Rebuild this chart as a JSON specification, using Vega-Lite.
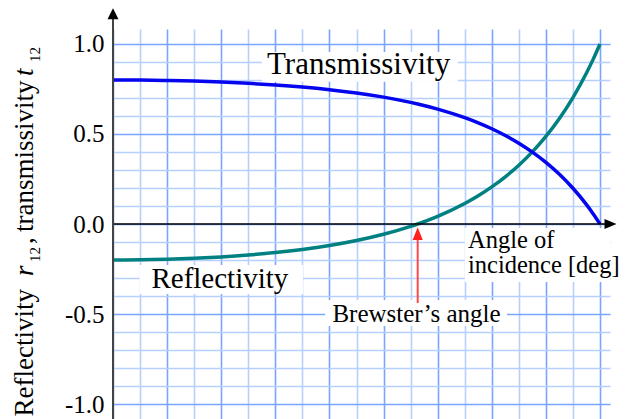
{
  "$schema": "https://vega.github.io/schema/vega-lite/v6.json",
  "autosize": {"type": "none"},
  "padding": {"left": 113, "top": 29, "right": 15, "bottom": 0},
  "width": 497,
  "height": 390,
  "background": "white",
  "config": {"view": {"stroke": null}},
  "datasets": {
    "fresnel": [
      {"angle": 0, "r": -0.2, "t": 0.8},
      {"angle": 5, "r": -0.19898, "t": 0.79932},
      {"angle": 10, "r": -0.19589, "t": 0.79726},
      {"angle": 15, "r": -0.1906, "t": 0.79373},
      {"angle": 20, "r": -0.1829, "t": 0.7886},
      {"angle": 25, "r": -0.17248, "t": 0.78165},
      {"angle": 30, "r": -0.1589, "t": 0.7726},
      {"angle": 35, "r": -0.14156, "t": 0.76104},
      {"angle": 40, "r": -0.11962, "t": 0.74642},
      {"angle": 45, "r": -0.09201, "t": 0.72801},
      {"angle": 50, "r": -0.05725, "t": 0.70483},
      {"angle": 55, "r": -0.01334, "t": 0.67556},
      {"angle": 56.31, "r": 0, "t": 0.66667},
      {"angle": 60, "r": 0.04245, "t": 0.63837},
      {"angle": 65, "r": 0.11386, "t": 0.59076},
      {"angle": 67.5, "r": 0.15698, "t": 0.56201},
      {"angle": 70, "r": 0.20613, "t": 0.52925},
      {"angle": 72.5, "r": 0.26232, "t": 0.49179},
      {"angle": 75, "r": 0.32675, "t": 0.44883},
      {"angle": 77.5, "r": 0.40092, "t": 0.39939},
      {"angle": 80, "r": 0.48664, "t": 0.34224},
      {"angle": 82.5, "r": 0.58616, "t": 0.27589},
      {"angle": 85, "r": 0.70232, "t": 0.19845},
      {"angle": 87.5, "r": 0.83872, "t": 0.10752},
      {"angle": 88.75, "r": 0.91591, "t": 0.05606},
      {"angle": 90, "r": 1, "t": 0}
    ],
    "boxes": [
      {"x": 27.5, "x2": 63.7, "y": 0.956, "y2": 0.79},
      {"x": 4.9, "x2": 35.1, "y": -0.228, "y2": -0.389},
      {"x": 39.2, "x2": 72.8, "y": -0.422, "y2": -0.567},
      {"x": 65.0, "x2": 91.848, "y": -0.022, "y2": -0.322}
    ],
    "headline": [
      {"x": 28.46, "y": 0.8317, "text": "Transmissivity"}
    ],
    "bigLabels": [
      {"x": 7.1, "y": -0.354, "text": "Reflectivity"}
    ],
    "brewsterLabel": [
      {"x": 40.55, "y": -0.5428, "text": "Brewster’s angle"}
    ],
    "xTitle": [
      {"x": 65.6, "y": -0.135, "text": "Angle of\nincidence [deg]"}
    ],
    "titleRoman": [
      {"x": -14.78, "y": -1.0694, "text": "Reflectivity"},
      {"x": -14.78, "y": -0.1111, "text": ","},
      {"x": -14.78, "y": -0.0444, "text": "transmissivity"}
    ],
    "titleItalic": [
      {"x": -14.78, "y": -0.2889, "text": "r"},
      {"x": -14.78, "y": 0.8222, "text": "t"}
    ],
    "titleSub": [
      {"x": -13.54, "y": -0.2111, "text": "12"},
      {"x": -13.54, "y": 0.9, "text": "12"}
    ],
    "yAxisLine": [{"x": 0, "y": -1.0833, "y2": 1.16}],
    "xAxisLine": [{"x": 0, "x2": 91.2, "y": 0}],
    "yArrow": [{"x": 0, "y": 1.168}],
    "xArrow": [{"x": 91.94, "y": 0}],
    "brewsterLine": [{"x": 56.31, "y": -0.085, "y2": -0.439}],
    "brewsterHead": [{"x": 56.31, "y": -0.053}]
  },
  "layer": [
    {
      "data": {"name": "fresnel"},
      "mark": {"type": "line", "color": "#008080", "strokeWidth": 3.5, "interpolate": "monotone"},
      "encoding": {
        "x": {
          "field": "angle", "type": "quantitative",
          "scale": {"domain": [0, 91.848], "nice": false, "zero": false},
          "axis": {
            "values": [0, 5, 10, 15, 20, 25, 30, 35, 40, 45, 50, 55, 60, 65, 70, 75, 80, 85, 90],
            "tickCount": 100,
            "grid": true,
            "gridColor": {"condition": {"test": "datum.value % 10 === 0", "value": "#7ba4ff"}, "value": "#b6cfff"},
            "gridWidth": 1.6,
            "domain": false, "ticks": false, "labels": false, "title": null
          }
        },
        "y": {
          "field": "r", "type": "quantitative",
          "scale": {"domain": [-1.0833, 1.0833], "nice": false, "zero": false},
          "axis": {
            "values": [-1, -0.9, -0.8, -0.7, -0.6, -0.5, -0.4, -0.3, -0.2, -0.1, 0, 0.1, 0.2, 0.3, 0.4, 0.5, 0.6, 0.7, 0.8, 0.9, 1],
            "tickCount": 100,
            "grid": true,
            "gridColor": {"condition": {"test": "abs(datum.value * 2 - round(datum.value * 2)) < 0.001", "value": "#7ba4ff"}, "value": "#b6cfff"},
            "gridWidth": 1.6,
            "domain": false, "ticks": false, "tickSize": 0,
            "labelPadding": 9,
            "labelFont": "Liberation Serif", "labelFontSize": 25, "labelColor": "black",
            "labelOverlap": false, "labelFlush": false, "labelBound": false,
            "labelExpr": "datum.value == 1 ? '1.0' : datum.value == 0.5 ? '0.5' : datum.value == 0 ? '0.0' : datum.value == -0.5 ? '-0.5' : datum.value == -1 ? '-1.0' : ''",
            "title": null
          }
        }
      }
    },
    {
      "data": {"name": "fresnel"},
      "mark": {"type": "line", "color": "#0505ee", "strokeWidth": 3.5, "interpolate": "monotone"},
      "encoding": {
        "x": {"field": "angle", "type": "quantitative"},
        "y": {"field": "t", "type": "quantitative"}
      }
    },
    {
      "data": {"name": "boxes"},
      "mark": {"type": "rect", "fill": "white"},
      "encoding": {
        "x": {"field": "x", "type": "quantitative"},
        "x2": {"field": "x2"},
        "y": {"field": "y", "type": "quantitative"},
        "y2": {"field": "y2"}
      }
    },
    {
      "data": {"name": "xAxisLine"},
      "mark": {"type": "rule", "color": "black", "strokeWidth": 1.5},
      "encoding": {
        "x": {"field": "x", "type": "quantitative"},
        "x2": {"field": "x2"},
        "y": {"field": "y", "type": "quantitative"}
      }
    },
    {
      "data": {"name": "xArrow"},
      "mark": {"type": "point", "shape": "M1,0L-1,-0.85L-1,0.85Z", "size": 144, "filled": true, "color": "black", "opacity": 1},
      "encoding": {
        "x": {"field": "x", "type": "quantitative"},
        "y": {"field": "y", "type": "quantitative"}
      }
    },
    {
      "data": {"name": "yAxisLine"},
      "mark": {"type": "rule", "color": "#444444", "strokeWidth": 2},
      "encoding": {
        "x": {"field": "x", "type": "quantitative"},
        "y": {"field": "y", "type": "quantitative"},
        "y2": {"field": "y2"}
      }
    },
    {
      "data": {"name": "yArrow"},
      "mark": {"type": "point", "shape": "M0,-1L-1,1L1,1Z", "size": 121, "filled": true, "color": "black", "opacity": 1},
      "encoding": {
        "x": {"field": "x", "type": "quantitative"},
        "y": {"field": "y", "type": "quantitative"}
      }
    },
    {
      "data": {"name": "brewsterLine"},
      "mark": {"type": "rule", "color": "#ff4a4a", "strokeWidth": 2},
      "encoding": {
        "x": {"field": "x", "type": "quantitative"},
        "y": {"field": "y", "type": "quantitative"},
        "y2": {"field": "y2"}
      }
    },
    {
      "data": {"name": "brewsterHead"},
      "mark": {"type": "point", "shape": "M0,-1L-0.8,1L0.8,1Z", "size": 161, "filled": true, "color": "#ff2020", "opacity": 1},
      "encoding": {
        "x": {"field": "x", "type": "quantitative"},
        "y": {"field": "y", "type": "quantitative"}
      }
    },
    {
      "data": {"name": "headline"},
      "mark": {"type": "text", "font": "Liberation Serif", "fontSize": 31, "align": "left", "baseline": "alphabetic", "color": "black"},
      "encoding": {
        "x": {"field": "x", "type": "quantitative"},
        "y": {"field": "y", "type": "quantitative"},
        "text": {"field": "text"}
      }
    },
    {
      "data": {"name": "bigLabels"},
      "mark": {"type": "text", "font": "Liberation Serif", "fontSize": 29, "align": "left", "baseline": "alphabetic", "color": "black"},
      "encoding": {
        "x": {"field": "x", "type": "quantitative"},
        "y": {"field": "y", "type": "quantitative"},
        "text": {"field": "text"}
      }
    },
    {
      "data": {"name": "brewsterLabel"},
      "mark": {"type": "text", "font": "Liberation Serif", "fontSize": 25, "align": "left", "baseline": "alphabetic", "color": "black"},
      "encoding": {
        "x": {"field": "x", "type": "quantitative"},
        "y": {"field": "y", "type": "quantitative"},
        "text": {"field": "text"}
      }
    },
    {
      "data": {"name": "xTitle"},
      "mark": {"type": "text", "font": "Liberation Serif", "fontSize": 24.5, "lineBreak": "\n", "lineHeight": 25, "align": "left", "baseline": "alphabetic", "color": "black"},
      "encoding": {
        "x": {"field": "x", "type": "quantitative"},
        "y": {"field": "y", "type": "quantitative"},
        "text": {"field": "text"}
      }
    },
    {
      "data": {"name": "titleRoman"},
      "mark": {"type": "text", "font": "Liberation Serif", "fontSize": 27, "align": "left", "baseline": "alphabetic", "angle": 270, "color": "black"},
      "encoding": {
        "x": {"field": "x", "type": "quantitative"},
        "y": {"field": "y", "type": "quantitative"},
        "text": {"field": "text"}
      }
    },
    {
      "data": {"name": "titleItalic"},
      "mark": {"type": "text", "font": "Liberation Serif", "fontStyle": "italic", "fontSize": 27, "align": "left", "baseline": "alphabetic", "angle": 270, "color": "black"},
      "encoding": {
        "x": {"field": "x", "type": "quantitative"},
        "y": {"field": "y", "type": "quantitative"},
        "text": {"field": "text"}
      }
    },
    {
      "data": {"name": "titleSub"},
      "mark": {"type": "text", "font": "Liberation Serif", "fontSize": 15, "align": "left", "baseline": "alphabetic", "angle": 270, "color": "black"},
      "encoding": {
        "x": {"field": "x", "type": "quantitative"},
        "y": {"field": "y", "type": "quantitative"},
        "text": {"field": "text"}
      }
    }
  ]
}
